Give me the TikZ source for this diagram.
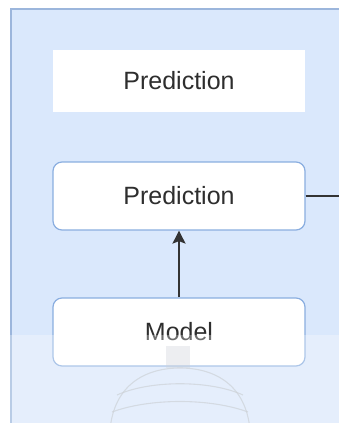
\documentclass[tikz,border=0pt]{standalone}
\usepackage{fontspec}
\setmainfont{Liberation Sans}
\usetikzlibrary{arrows.meta}
\definecolor{panelfill}{HTML}{DAE8FC}
\definecolor{paneledge}{HTML}{9CB6DC}
\definecolor{boxedge}{HTML}{8AAEE0}
\definecolor{labeltext}{HTML}{2E2E2E}
\definecolor{ghost}{HTML}{B8BEC6}
\tikzset{
  plainbox/.style={rectangle, fill=white, minimum width=252pt, minimum height=62pt,
    font=\fontsize{25}{30}\selectfont, text=labeltext, inner sep=0pt},
  roundbox/.style={plainbox, rounded corners=9pt, draw=boxedge, line width=1.2pt,
    minimum height=68pt},
  link/.style={line width=1.8pt, draw=black!80},
}
\begin{document}
\begin{tikzpicture}[x=1pt,y=-1pt]
\useasboundingbox (0,0) rectangle (338,423);
% container panel: only its left and top edges are in view
\fill[panelfill] (11,9) rectangle (350,435);
\draw[paneledge, line width=1.6pt] (11,435) -- (11,9) -- (350,9);
% boxes
\node[plainbox] (title) at (179,81) {Prediction};
\node[roundbox] (pred) at (179,196) {Prediction};
\node[roundbox] (model) at (179,332) {Model};
% connectors
\coordinate (out) at (350,196);
\draw[link] (pred.east) -- (out);
\draw[link, -{Stealth[length=13pt,width=13pt,inset=2.5pt]}] (model.north) -- (pred.south);
% faint dome icon below the model
\begin{scope}[draw=ghost, line width=1.1pt, opacity=0.7]
  \fill[ghost, opacity=0.35] (166,346) rectangle (190,368);
  \draw (110,430) .. controls (114,385) and (145,368) .. (180,368)
        .. controls (215,368) and (246,385) .. (250,430);
  \draw (117,395) .. controls (150,380) and (210,380) .. (243,395);
  \draw (112,412) .. controls (150,398) and (210,398) .. (248,412);
\end{scope}
% lighter band across the lower part
\fill[white, opacity=0.3] (0,335) rectangle (350,435);
\end{tikzpicture}
\end{document}
